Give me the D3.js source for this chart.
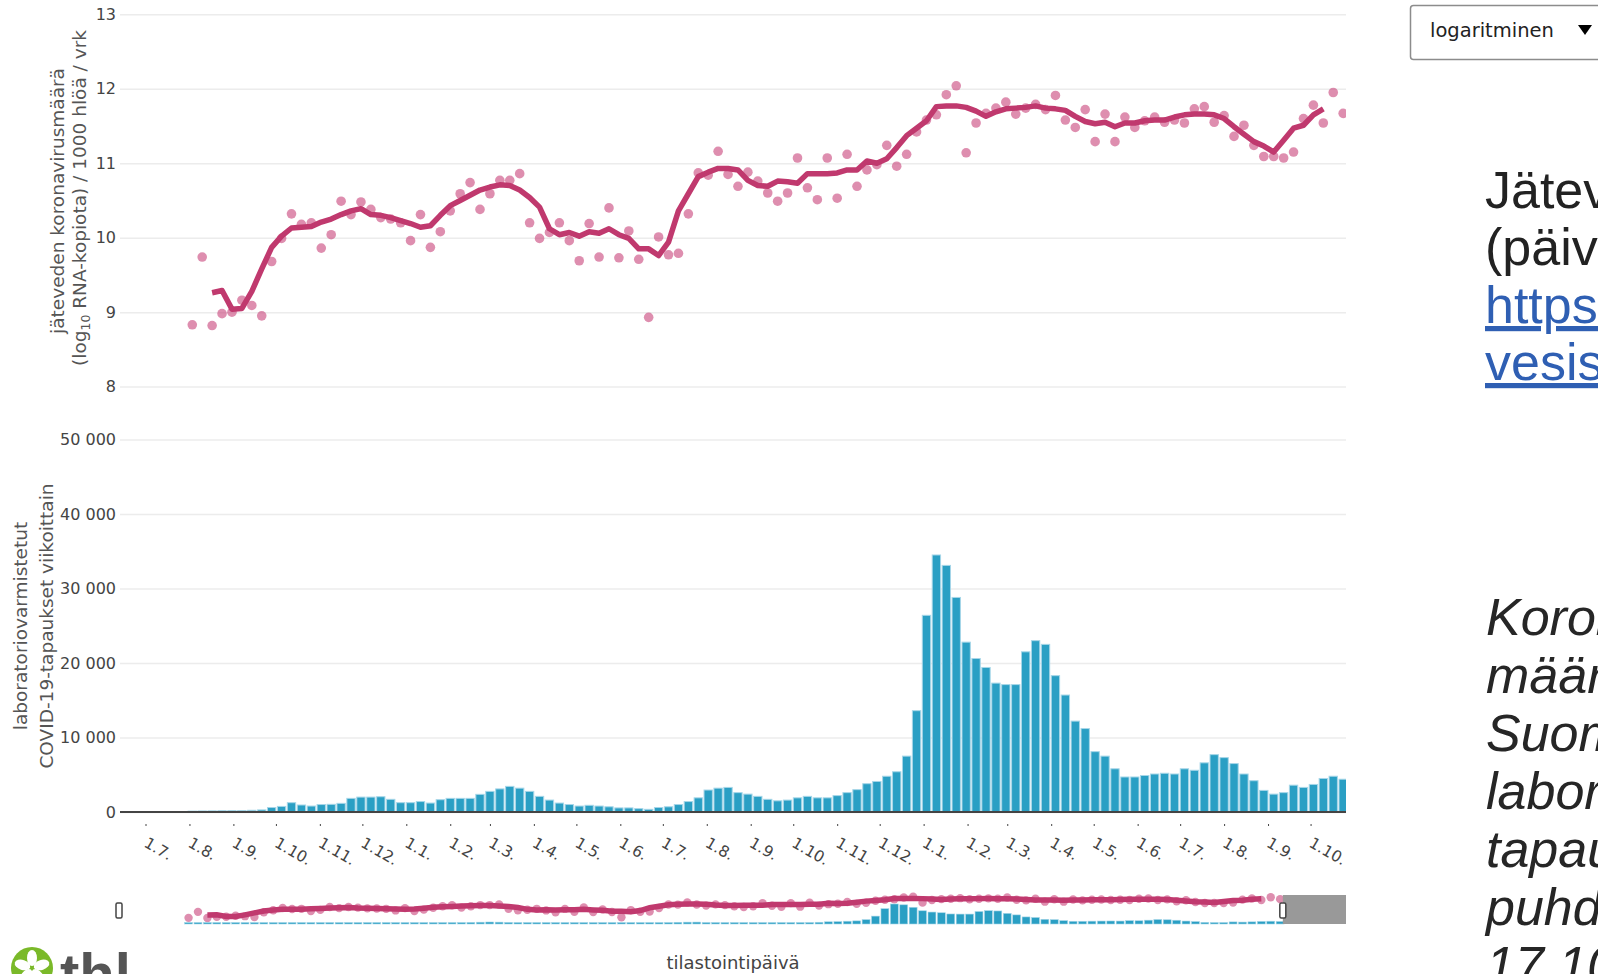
<!DOCTYPE html>
<html>
<head>
<meta charset="utf-8">
<script src="https://cdn.jsdelivr.net/npm/d3@7"></script>
<style>
  body { margin: 0; overflow: hidden; background: #fff; }
  svg { display: block; }
</style>
</head>
<body>
<svg id="chart" width="1598" height="974"></svg>
<script>
// weekly values, first week starts 3.8.2020
var firstWeek = "2020-08-03";

// wastewater (log10 RNA copies / 1000 persons / day), one dot per week
var wastewater = [
  8.83, 9.74, 8.82, 8.98, 9.00, 9.16, 9.09, 8.95, 9.68, 9.99,
  10.32, 10.18, 10.20, 9.86, 10.04, 10.49, 10.31, 10.48, 10.38, 10.27,
  10.25, 10.20, 9.96, 10.31, 9.87, 10.08, 10.36, 10.59, 10.74, 10.38,
  10.59, 10.77, 10.77, 10.86, 10.20, 9.99, 10.07, 10.20, 9.96, 9.69,
  10.19, 9.74, 10.40, 9.73, 10.09, 9.71, 8.93, 10.01, 9.77, 9.79,
  10.32, 10.87, 10.84, 11.16, 10.85, 10.69, 10.88, 10.76, 10.60, 10.49,
  10.60, 11.07, 10.67, 10.51, 11.07, 10.53, 11.12, 10.69, 10.91, 10.98,
  11.24, 10.96, 11.12, 11.42, 11.58, 11.65, 11.92, 12.04, 11.14, 11.54,
  11.67, 11.74, 11.82, 11.66, 11.74, 11.79, 11.72, 11.91, 11.58, 11.48,
  11.72, 11.29, 11.66, 11.29, 11.62, 11.48, 11.57, 11.62, 11.55, 11.58,
  11.54, 11.73, 11.76, 11.55, 11.64, 11.36, 11.51, 11.24, 11.09, 11.09,
  11.07, 11.15, 11.60, 11.78, 11.54, 11.95, 11.67
];

// moving average line, starts at the 3rd week
var trendOffset = 2;
var wastewaterTrend = [
  9.26, 9.29, 9.04, 9.05, 9.28, 9.58, 9.87, 10.02,
  10.13, 10.14, 10.15, 10.21, 10.25, 10.31, 10.36, 10.39, 10.31, 10.30,
  10.27, 10.23, 10.19, 10.14, 10.16, 10.30, 10.43, 10.50, 10.57, 10.64,
  10.68, 10.71, 10.70, 10.64, 10.54, 10.41, 10.12, 10.04, 10.07, 10.02,
  10.08, 10.06, 10.12, 10.04, 9.99, 9.85, 9.85, 9.76, 9.94, 10.36,
  10.59, 10.82, 10.88, 10.93, 10.93, 10.91, 10.77, 10.70, 10.69, 10.76,
  10.75, 10.73, 10.86, 10.86, 10.86, 10.87, 10.91, 10.91, 11.03, 11.00,
  11.06, 11.21, 11.37, 11.47, 11.57, 11.76, 11.77, 11.77, 11.75, 11.70,
  11.63, 11.69, 11.73, 11.74, 11.75, 11.77, 11.74, 11.73, 11.71, 11.63,
  11.56, 11.53, 11.55, 11.49, 11.54, 11.54, 11.57, 11.58, 11.58, 11.62,
  11.65, 11.66, 11.66, 11.65, 11.60, 11.49, 11.39, 11.29, 11.23, 11.15,
  11.31, 11.47, 11.51, 11.65, 11.73
];

// lab confirmed cases per week
var cases = [
  120, 140, 150, 170, 180, 200, 230, 280,
  600, 750, 1250, 940, 800, 1000, 1030, 1160,
  1830, 2000, 2000, 2050, 1700, 1250, 1250, 1400, 1200, 1650,
  1830, 1830, 1830, 2370, 2770, 3100, 3440, 3200, 2770, 2100,
  1600, 1200, 1000, 800, 900, 800, 700, 550, 550, 450,
  360, 600, 700, 1000, 1400, 1900, 2950, 3200, 3300,
  2600, 2400, 2100, 1700, 1500, 1600, 1900, 2100, 1900, 1900,
  2200, 2600, 3000, 3800, 4100, 4800, 5400, 7500, 13600, 26400,
  34500, 33100, 28800, 22800, 20600, 19400, 17300, 17100, 17100, 21500,
  23000, 22500, 18300, 15700, 12200, 11200, 8100, 7500, 5800, 4700,
  4700, 4900, 5100, 5200, 5100, 5800, 5600, 6600, 7700, 7300,
  6500, 5100, 4200, 2900, 2400, 2600, 3600, 3300, 3700, 4500,
  4800, 4400
];

var logTicks = [8, 9, 10, 11, 12, 13];
var caseTicks = [0, 10000, 20000, 30000, 40000, 50000];

var viewStart = "2020-06-13", viewEnd = "2022-10-26", sliderEnd = "2022-12-12";

var pink = "#c0396e", pinkDot = "#c8437a", blue = "#2a9fc4", blueEdge = "#a6d6e8";
var font = "DejaVu Sans, Verdana, sans-serif";

var svg = d3.select("#chart");
var parse = d3.utcParse("%Y-%m-%d");
var week0 = parse(firstWeek);
var weeks = cases.map(function(d, i) { return d3.utcDay.offset(week0, 7 * i); });

var left = 120, right = 1346;
var x = d3.scaleUtc().domain([parse(viewStart), parse(viewEnd)]).range([left, right]);
var yLog = d3.scaleLinear().domain([8, 13]).range([386.6, 14.3]);
var yCases = d3.scaleLinear().domain([0, 50000]).range([812, 439.5]);

var fi = d3.formatLocale({decimal: ",", thousands: " ", grouping: [3], currency: ["", " €"]});

svg.append("clipPath").attr("id", "plotclip")
  .append("rect").attr("x", left).attr("y", 0).attr("width", right - left).attr("height", 830);

// y axes + gridlines
function gridAxis(scale, ticks, fmt) {
  var g = svg.append("g")
    .attr("transform", "translate(" + left + ",0)")
    .call(d3.axisLeft(scale).tickValues(ticks).tickFormat(fmt)
      .tickSize(-(right - left)).tickPadding(4));
  g.select(".domain").remove();
  g.selectAll(".tick line").attr("stroke", "#ececec").attr("stroke-width", 1.5);
  g.selectAll(".tick text").attr("fill", "#444")
    .style("font-family", font).style("font-size", "16px");
  return g;
}
gridAxis(yLog, logTicks, d3.format("d"));
gridAxis(yCases, caseTicks, fi.format(",d"));

var plot = svg.append("g").attr("clip-path", "url(#plotclip)");

// bars
var dayPx = x(d3.utcDay.offset(week0, 1)) - x(week0);
var bw = 7 * dayPx * 0.84;
plot.append("g").selectAll("rect")
  .data(cases)
  .join("rect")
    .attr("x", function(d, i) { return x(weeks[i]) - bw / 2; })
    .attr("y", function(d) { return yCases(d); })
    .attr("width", bw)
    .attr("height", function(d) { return yCases(0) - yCases(d); })
    .attr("fill", blue)
    .attr("stroke", blueEdge)
    .attr("stroke-width", 1);

// zero line
svg.append("line")
  .attr("x1", left).attr("x2", right)
  .attr("y1", yCases(0)).attr("y2", yCases(0))
  .attr("stroke", "#444").attr("stroke-width", 2);

// wastewater dots + trend
plot.append("g").selectAll("circle")
  .data(wastewater)
  .join("circle")
    .attr("cx", function(d, i) { return x(weeks[i]); })
    .attr("cy", function(d) { return yLog(d); })
    .attr("r", 4.8)
    .attr("fill", pinkDot)
    .attr("fill-opacity", 0.6);

var trendLine = d3.line()
  .x(function(d, i) { return x(weeks[i + trendOffset]); })
  .y(function(d) { return yLog(d); });
plot.append("path")
  .datum(wastewaterTrend)
  .attr("d", trendLine)
  .attr("fill", "none")
  .attr("stroke", pink)
  .attr("stroke-width", 5.5)
  .attr("stroke-linejoin", "round");

// x axis: month ticks with rotated labels
var xAxis = svg.append("g")
  .attr("transform", "translate(0,824)")
  .call(d3.axisBottom(x).ticks(d3.utcMonth.every(1))
    .tickSize(2)
    .tickFormat(function(d) { return d.getUTCDate() + "." + (d.getUTCMonth() + 1) + "."; }));
xAxis.select(".domain").remove();
xAxis.selectAll(".tick line").attr("stroke", "#444");
xAxis.selectAll(".tick text")
  .attr("x", 0).attr("y", 0).attr("dy", null)
  .attr("transform", "translate(-3,22) rotate(30)")
  .style("text-anchor", "start")
  .attr("fill", "#444")
  .style("font-family", font).style("font-size", "15.5px");

// axis titles
svg.append("text")
  .attr("transform", "translate(64,201) rotate(-90)")
  .attr("text-anchor", "middle")
  .attr("fill", "#555").style("font-family", font).style("font-size", "18.5px")
  .text("jäteveden koronavirusmäärä");
var t2 = svg.append("text")
  .attr("transform", "translate(86,198) rotate(-90)")
  .attr("text-anchor", "middle")
  .attr("fill", "#555").style("font-family", font).style("font-size", "18.5px");
t2.append("tspan").text("(log");
t2.append("tspan").attr("dy", 4).style("font-size", "12.5px").text("10");
t2.append("tspan").attr("dy", -4).text(" RNA-kopiota) / 1000 hlöä / vrk");

svg.append("text")
  .attr("transform", "translate(27,626) rotate(-90)")
  .attr("text-anchor", "middle")
  .attr("fill", "#555").style("font-family", font).style("font-size", "18.5px")
  .text("laboratoriovarmistetut");
svg.append("text")
  .attr("transform", "translate(53,626) rotate(-90)")
  .attr("text-anchor", "middle")
  .attr("fill", "#555").style("font-family", font).style("font-size", "18.5px")
  .text("COVID-19-tapaukset viikoittain");

svg.append("text")
  .attr("x", 733).attr("y", 969)
  .attr("text-anchor", "middle")
  .attr("fill", "#444").style("font-family", font).style("font-size", "18px")
  .text("tilastointipäivä");

// range slider
var xs = d3.scaleUtc().domain([parse(viewStart), parse(sliderEnd)]).range([left, right]);
var ysLog = d3.scaleLinear().domain([7.9, 12.3]).range([924, 895]);
var ysCases = d3.scaleLinear().domain([0, 50000]).range([924, 895]);
var slider = svg.append("g");
var sdPx = xs(d3.utcDay.offset(week0, 1)) - xs(week0);
var sbw = 7 * sdPx * 0.84;

slider.append("g").selectAll("circle")
  .data(wastewater)
  .join("circle")
    .attr("cx", function(d, i) { return xs(weeks[i]); })
    .attr("cy", function(d) { return ysLog(d); })
    .attr("r", 4.2)
    .attr("fill", pinkDot)
    .attr("fill-opacity", 0.6);
slider.append("path")
  .datum(wastewaterTrend)
  .attr("d", d3.line()
    .x(function(d, i) { return xs(weeks[i + trendOffset]); })
    .y(function(d) { return ysLog(d); }))
  .attr("fill", "none")
  .attr("stroke", pink)
  .attr("stroke-width", 5.5);
slider.append("g").selectAll("rect")
  .data(cases)
  .join("rect")
    .attr("x", function(d, i) { return xs(weeks[i]) - sbw / 2; })
    .attr("y", function(d) { return Math.min(ysCases(d), 922.5); })
    .attr("width", sbw)
    .attr("height", function(d) { return Math.max(1.5, 924 - ysCases(d)); })
    .attr("fill", blue)
    .attr("stroke", blueEdge)
    .attr("stroke-width", 0.6);

var selEnd = xs(parse(viewEnd));
slider.append("rect")
  .attr("x", selEnd).attr("y", 895)
  .attr("width", right - selEnd).attr("height", 29)
  .attr("fill", "#999");
[left - 1, selEnd].forEach(function(hx) {
  slider.append("rect")
    .attr("x", hx - 3).attr("y", 903)
    .attr("width", 6).attr("height", 15)
    .attr("rx", 1.5)
    .attr("fill", "#fff")
    .attr("stroke", "#444")
    .attr("stroke-width", 1.5);
});

// dropdown
var dd = svg.append("g");
dd.append("rect")
  .attr("x", 1410.5).attr("y", 5.5).attr("width", 220).attr("height", 54)
  .attr("rx", 3).attr("fill", "#fff")
  .attr("stroke", "#8c8c8c").attr("stroke-width", 1.5);
dd.append("text")
  .attr("x", 1430).attr("y", 37)
  .attr("fill", "#222").style("font-family", font).style("font-size", "19.5px")
  .text("logaritminen");
dd.append("path")
  .attr("d", "M1578,25 L1592,25 L1585,35 Z")
  .attr("fill", "#000");

// right side text
var side = svg.append("g").style("font-family", "Liberation Sans, Arial, sans-serif")
  .style("font-size", "52px");
side.append("text").attr("x", 1485).attr("y", 208).attr("fill", "#222")
  .text("Jätevesiseuranta");
side.append("text").attr("x", 1485).attr("y", 265).attr("fill", "#222")
  .text("(päivitetty viikoittain)");
side.append("text").attr("x", 1485).attr("y", 323).attr("fill", "#2f5fb3")
  .style("text-decoration", "underline").text("https://thl.fi/jate");
side.append("text").attr("x", 1485).attr("y", 380).attr("fill", "#2f5fb3")
  .style("text-decoration", "underline").text("vesiseuranta");

var notes = ["Koronaviruksen", "määrä jätevedessä", "Suomessa ja", "laboratoriovarmistetut",
  "tapaukset", "puhdistamoittain", "17.10.2022"];
side.append("g").selectAll("text")
  .data(notes)
  .join("text")
    .attr("x", 1486)
    .attr("y", function(d, i) { return 635 + i * 58; })
    .attr("fill", "#262626")
    .style("font-style", "italic")
    .text(function(d) { return d; });

// thl logo
var logo = svg.append("g");
logo.append("circle").attr("cx", 32).attr("cy", 968).attr("r", 21).attr("fill", "#7ab929");
[0, 72, 144, 216, 288].forEach(function(a) {
  logo.append("ellipse")
    .attr("cx", 32).attr("cy", 958).attr("rx", 5).attr("ry", 8)
    .attr("fill", "#fff")
    .attr("transform", "rotate(" + a + ",32,968)");
});
logo.append("text").attr("x", 60).attr("y", 994)
  .attr("fill", "#555").style("font-family", "Liberation Sans, Arial, sans-serif")
  .style("font-weight", "bold").style("font-size", "58px")
  .text("thl");
</script>
</body>
</html>
